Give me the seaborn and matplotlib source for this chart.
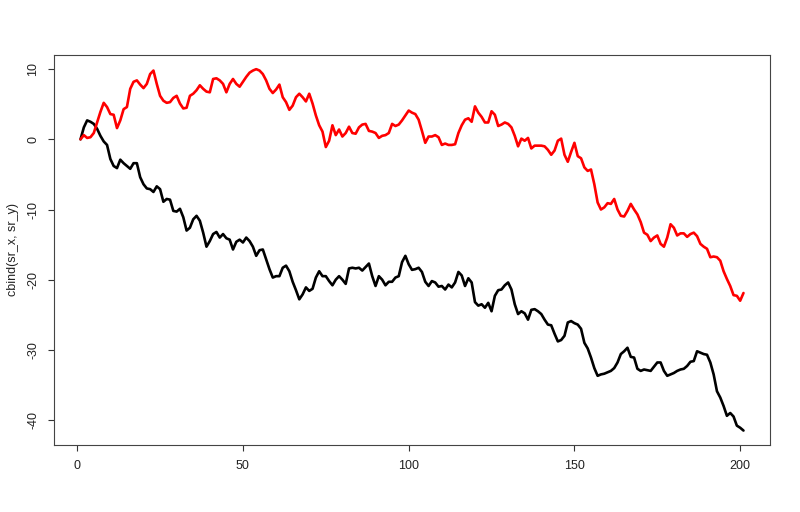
import numpy as np
import pandas as pd
import matplotlib
matplotlib.use("Agg")
import matplotlib.pyplot as plt
import seaborn as sns

# Index (1..201) and the two random-walk series
steps = list(range(1, 202))
sr_x = [0, 1.7, 2.7, 2.5, 2.2, 1.5, 0.5, -0.3, -0.8, -2.8,
        -3.8, -4.1, -2.9, -3.4, -3.8, -4.2, -3.4, -3.4, -5.4, -6.4,
        -7.0, -7.1, -7.5, -6.7, -7.1, -8.9, -8.5, -8.6, -10.2, -10.3,
        -9.9, -11.1, -13.0, -12.6, -11.4, -10.9, -11.6, -13.3, -15.3, -14.5,
        -13.5, -13.2, -14.0, -13.5, -14.1, -14.3, -15.7, -14.6, -14.3, -14.7,
        -14.0, -14.5, -15.3, -16.6, -15.8, -15.7, -17.1, -18.5, -19.7, -19.5,
        -19.5, -18.3, -18.0, -18.8, -20.3, -21.5, -22.8, -22.1, -21.1, -21.6,
        -21.3, -19.7, -18.8, -19.5, -19.5, -20.2, -20.8, -20.0, -19.5, -20.0,
        -20.6, -18.4, -18.3, -18.4, -18.3, -18.7, -18.2, -17.7, -19.5, -20.9,
        -19.5, -20.0, -20.8, -20.3, -20.3, -19.7, -19.5, -17.5, -16.6, -17.8,
        -18.6, -18.5, -18.3, -18.9, -20.3, -20.9, -20.2, -20.4, -21.0, -20.9,
        -21.4, -20.7, -21.1, -20.4, -18.9, -19.4, -20.9, -19.8, -20.4, -23.2,
        -23.7, -23.5, -24.0, -23.3, -24.5, -22.3, -21.5, -21.4, -20.8, -20.4,
        -21.4, -23.5, -24.9, -24.5, -24.8, -25.7, -24.3, -24.2, -24.5, -24.9,
        -25.7, -26.4, -26.5, -27.7, -28.8, -28.6, -28.0, -26.1, -25.9, -26.2,
        -26.4, -27.0, -29.0, -29.8, -31.1, -32.6, -33.7, -33.5, -33.4, -33.2,
        -33.0, -32.6, -31.8, -30.6, -30.2, -29.7, -31.0, -31.1, -32.7, -33.0,
        -32.8, -32.9, -33.0, -32.4, -31.8, -31.8, -33.0, -33.7, -33.5, -33.3,
        -33.0, -32.8, -32.7, -32.3, -31.7, -31.6, -30.2, -30.4, -30.6, -30.7,
        -31.8, -33.5, -35.9, -36.8, -38.0, -39.4, -39.0, -39.5, -40.8, -41.1,
        -41.5]
sr_y = [0, 0.6, 0.2, 0.3, 0.9, 2.4, 3.9, 5.2, 4.6, 3.6,
        3.5, 1.6, 2.7, 4.3, 4.6, 7.2, 8.2, 8.4, 7.8, 7.3,
        7.9, 9.3, 9.8, 7.9, 6.2, 5.5, 5.2, 5.3, 5.9, 6.2,
        5.1, 4.4, 4.5, 6.2, 6.5, 7.0, 7.7, 7.2, 6.8, 6.7,
        8.6, 8.7, 8.4, 7.9, 6.7, 7.9, 8.6, 7.9, 7.5, 8.2,
        8.9, 9.5, 9.8, 10.0, 9.8, 9.3, 8.4, 7.2, 6.6, 7.1,
        7.8, 6.0, 5.3, 4.2, 4.8, 6.0, 6.5, 6.0, 5.4, 6.5,
        5.1, 3.4, 2.0, 1.1, -1.1, -0.2, 2.0, 0.6, 1.4, 0.4,
        0.9, 1.8, 0.9, 0.8, 1.7, 2.1, 2.2, 1.2, 1.1, 0.9,
        0.2, 0.5, 0.6, 0.9, 2.2, 1.9, 2.1, 2.7, 3.4, 4.1,
        3.8, 3.6, 2.8, 1.2, -0.5, 0.4, 0.4, 0.6, 0.3, -0.8,
        -0.6, -0.8, -0.8, -0.7, 0.9, 2.0, 2.8, 3.0, 2.5, 4.7,
        3.8, 3.2, 2.4, 2.4, 4.0, 3.5, 1.9, 2.1, 2.4, 2.2,
        1.7, 0.5, -1.0, 0.1, -0.2, 0.2, -1.3, -0.9, -0.9, -0.9,
        -1.0, -1.5, -2.2, -1.6, -0.2, 0.1, -2.2, -3.2, -1.8, -0.5,
        -2.4, -2.7, -4.0, -4.5, -4.3, -6.4, -9.0, -10.0, -9.7, -9.1,
        -9.2, -8.5, -10.0, -10.9, -11.0, -10.2, -9.2, -10.0, -10.7, -11.8,
        -13.3, -13.6, -14.5, -14.0, -13.7, -14.9, -15.3, -14.0, -12.1, -12.6,
        -13.7, -13.4, -13.4, -13.9, -13.5, -13.3, -13.8, -14.9, -15.3, -15.6,
        -16.8, -16.7, -16.8, -17.3, -18.8, -19.9, -20.9, -22.2, -22.3, -23.0,
        -21.9]
x_ticks = [0, 50, 100, 150, 200]
y_ticks = [-40, -30, -20, -10, 0, 10]
y_label = "cbind(sr_x, sr_y)"

df = pd.DataFrame({
    "idx": steps * 2,
    "value": sr_x + sr_y,
    "series": ["sr_x"] * len(sr_x) + ["sr_y"] * len(sr_y),
})

sns.set_style("white")
plt.rcParams["font.family"] = ["Liberation Sans", "DejaVu Sans"]

fig = plt.figure(figsize=(8, 5.12), dpi=100)
ax = fig.add_axes([54 / 800, 1 - 445 / 512, (770 - 54) / 800, (445 - 54.7) / 512])

sns.lineplot(data=df, x="idx", y="value", hue="series",
             palette={"sr_x": "black", "sr_y": "#ff0000"},
             linewidth=1.9, legend=False, ax=ax, estimator=None, sort=False)

# R-style 4% padding
xr = max(steps) - min(steps)
ax.set_xlim(min(steps) - 0.04 * xr, max(steps) + 0.04 * xr)
allv = sr_x + sr_y
yr = max(allv) - min(allv)
ax.set_ylim(min(allv) - 0.04 * yr, max(allv) + 0.04 * yr)

ax.set_xticks(x_ticks)
ax.set_yticks(y_ticks)
ax.set_xticklabels([str(t) for t in x_ticks])
ax.set_yticklabels([str(t) for t in y_ticks], rotation=90, va="center")
ax.tick_params(axis="both", which="major", direction="out", length=4.5,
               width=0.8, color="#333333", labelsize=9, labelcolor="#222222",
               left=True, bottom=True, pad=6)
ax.set_xlabel("")
ax.set_ylabel(y_label, fontsize=9, color="#222222", labelpad=6)
for s in ax.spines.values():
    s.set_visible(True)
    s.set_color("#444444")
    s.set_linewidth(0.8)

fig.savefig("out.png", dpi=100, facecolor="white")
